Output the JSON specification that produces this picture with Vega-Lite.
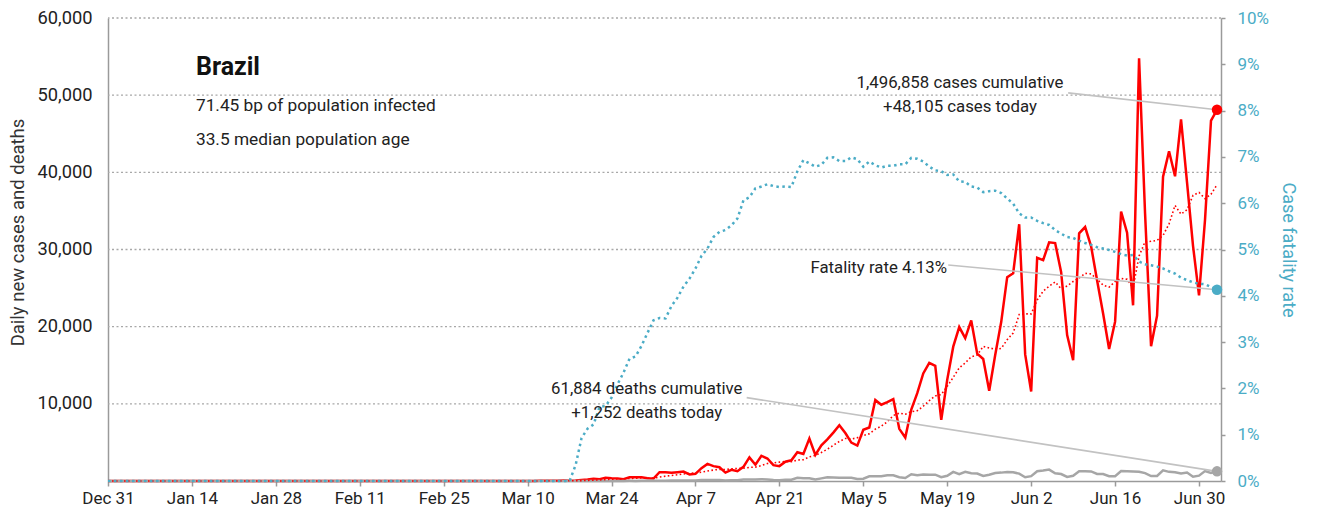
{
 "$schema": "https://vega.github.io/schema/vega-lite/v6.json",
 "width": 1113, "height": 463,
 "autosize": {"type": "none"},
 "padding": {"left": 108, "top": 18, "right": 96, "bottom": 39},
 "background": "white",
 "config": {
  "view": {"stroke": null},
  "font": "Roboto",
  "axis": {"labelFont": "Roboto", "titleFont": "Roboto", "titleFontWeight": "normal", "domainColor": "#9a9a9a", "domainWidth": 1.5, "tickColor": "#9a9a9a", "tickWidth": 1.5}
 },
 "datasets": {
  "daily": [
   {"d":"2019-12-31","c":0,"a":0,"x":0,"f":0},
   {"d":"2020-01-01","c":0,"a":0,"x":0,"f":0},{"d":"2020-01-02","c":0,"a":0,"x":0,"f":0},{"d":"2020-01-03","c":0,"a":0,"x":0,"f":0},{"d":"2020-01-04","c":0,"a":0,"x":0,"f":0},{"d":"2020-01-05","c":0,"a":0,"x":0,"f":0},{"d":"2020-01-06","c":0,"a":0,"x":0,"f":0},{"d":"2020-01-07","c":0,"a":0,"x":0,"f":0},{"d":"2020-01-08","c":0,"a":0,"x":0,"f":0},{"d":"2020-01-09","c":0,"a":0,"x":0,"f":0},{"d":"2020-01-10","c":0,"a":0,"x":0,"f":0},
   {"d":"2020-01-11","c":0,"a":0,"x":0,"f":0},{"d":"2020-01-12","c":0,"a":0,"x":0,"f":0},{"d":"2020-01-13","c":0,"a":0,"x":0,"f":0},{"d":"2020-01-14","c":0,"a":0,"x":0,"f":0},{"d":"2020-01-15","c":0,"a":0,"x":0,"f":0},{"d":"2020-01-16","c":0,"a":0,"x":0,"f":0},{"d":"2020-01-17","c":0,"a":0,"x":0,"f":0},{"d":"2020-01-18","c":0,"a":0,"x":0,"f":0},{"d":"2020-01-19","c":0,"a":0,"x":0,"f":0},{"d":"2020-01-20","c":0,"a":0,"x":0,"f":0},
   {"d":"2020-01-21","c":0,"a":0,"x":0,"f":0},{"d":"2020-01-22","c":0,"a":0,"x":0,"f":0},{"d":"2020-01-23","c":0,"a":0,"x":0,"f":0},{"d":"2020-01-24","c":0,"a":0,"x":0,"f":0},{"d":"2020-01-25","c":0,"a":0,"x":0,"f":0},{"d":"2020-01-26","c":0,"a":0,"x":0,"f":0},{"d":"2020-01-27","c":0,"a":0,"x":0,"f":0},{"d":"2020-01-28","c":0,"a":0,"x":0,"f":0},{"d":"2020-01-29","c":0,"a":0,"x":0,"f":0},{"d":"2020-01-30","c":0,"a":0,"x":0,"f":0},{"d":"2020-01-31","c":0,"a":0,"x":0,"f":0},
   {"d":"2020-02-01","c":0,"a":0,"x":0,"f":0},{"d":"2020-02-02","c":0,"a":0,"x":0,"f":0},{"d":"2020-02-03","c":0,"a":0,"x":0,"f":0},{"d":"2020-02-04","c":0,"a":0,"x":0,"f":0},{"d":"2020-02-05","c":0,"a":0,"x":0,"f":0},{"d":"2020-02-06","c":0,"a":0,"x":0,"f":0},{"d":"2020-02-07","c":0,"a":0,"x":0,"f":0},{"d":"2020-02-08","c":0,"a":0,"x":0,"f":0},{"d":"2020-02-09","c":0,"a":0,"x":0,"f":0},{"d":"2020-02-10","c":0,"a":0,"x":0,"f":0},
   {"d":"2020-02-11","c":0,"a":0,"x":0,"f":0},{"d":"2020-02-12","c":0,"a":0,"x":0,"f":0},{"d":"2020-02-13","c":0,"a":0,"x":0,"f":0},{"d":"2020-02-14","c":0,"a":0,"x":0,"f":0},{"d":"2020-02-15","c":0,"a":0,"x":0,"f":0},{"d":"2020-02-16","c":0,"a":0,"x":0,"f":0},{"d":"2020-02-17","c":0,"a":0,"x":0,"f":0},{"d":"2020-02-18","c":0,"a":0,"x":0,"f":0},{"d":"2020-02-19","c":0,"a":0,"x":0,"f":0},{"d":"2020-02-20","c":0,"a":0,"x":0,"f":0},
   {"d":"2020-02-21","c":0,"a":0,"x":0,"f":0},{"d":"2020-02-22","c":0,"a":0,"x":0,"f":0},{"d":"2020-02-23","c":0,"a":0,"x":0,"f":0},{"d":"2020-02-24","c":0,"a":0,"x":0,"f":0},{"d":"2020-02-25","c":0,"a":0,"x":0,"f":0},
   {"d":"2020-02-26","c":1,"a":0,"x":0,"f":0},{"d":"2020-02-27","c":0,"a":0,"x":0,"f":0},{"d":"2020-02-28","c":0,"a":0,"x":0,"f":0},{"d":"2020-02-29","c":0,"a":0,"x":0,"f":0},
   {"d":"2020-03-01","c":1,"a":0,"x":0,"f":0},{"d":"2020-03-02","c":0,"a":0,"x":0,"f":0},{"d":"2020-03-03","c":0,"a":0,"x":0,"f":0},{"d":"2020-03-04","c":0,"a":0,"x":0,"f":0},{"d":"2020-03-05","c":1,"a":0,"x":0,"f":0},{"d":"2020-03-06","c":5,"a":1,"x":0,"f":0},{"d":"2020-03-07","c":5,"a":2,"x":0,"f":0},{"d":"2020-03-08","c":6,"a":2,"x":0,"f":0},{"d":"2020-03-09","c":6,"a":3,"x":0,"f":0},{"d":"2020-03-10","c":0,"a":3,"x":0,"f":0},
   {"d":"2020-03-11","c":9,"a":5,"x":0,"f":0},{"d":"2020-03-12","c":18,"a":7,"x":0,"f":0},{"d":"2020-03-13","c":25,"a":10,"x":0,"f":0},{"d":"2020-03-14","c":21,"a":12,"x":0,"f":0},{"d":"2020-03-15","c":23,"a":15,"x":0,"f":0},{"d":"2020-03-16","c":79,"a":25,"x":0,"f":0},{"d":"2020-03-17","c":34,"a":30,"x":0,"f":0},
   {"d":"2020-03-18","c":57,"a":37,"x":1,"f":0.34},{"d":"2020-03-19","c":137,"a":54,"x":3,"f":0.93},{"d":"2020-03-20","c":193,"a":78,"x":3,"f":1.13},{"d":"2020-03-21","c":283,"a":115,"x":4,"f":1.22},{"d":"2020-03-22","c":224,"a":144,"x":7,"f":1.60},{"d":"2020-03-23","c":418,"a":192,"x":7,"f":1.62},{"d":"2020-03-24","c":345,"a":237,"x":9,"f":1.80},{"d":"2020-03-25","c":310,"a":273,"x":12,"f":2.09},{"d":"2020-03-26","c":232,"a":286,"x":11,"f":2.34},{"d":"2020-03-27","c":482,"a":328,"x":20,"f":2.64},{"d":"2020-03-28","c":502,"a":359,"x":15,"f":2.69},{"d":"2020-03-29","c":487,"a":397,"x":22,"f":2.92},{"d":"2020-03-30","c":352,"a":387,"x":22,"f":3.20},{"d":"2020-03-31","c":323,"a":384,"x":23,"f":3.47},
   {"d":"2020-04-01","c":1138,"a":502,"x":42,"f":3.52},{"d":"2020-04-02","c":1119,"a":629,"x":39,"f":3.51},{"d":"2020-04-03","c":1074,"a":714,"x":59,"f":3.78},{"d":"2020-04-04","c":1146,"a":806,"x":60,"f":3.96},{"d":"2020-04-05","c":1222,"a":911,"x":73,"f":4.20},{"d":"2020-04-06","c":852,"a":982,"x":54,"f":4.37},{"d":"2020-04-07","c":926,"a":1068,"x":67,"f":4.59},{"d":"2020-04-08","c":1661,"a":1143,"x":114,"f":4.86},{"d":"2020-04-09","c":2210,"a":1299,"x":133,"f":5.02},{"d":"2020-04-10","c":1930,"a":1421,"x":141,"f":5.27},
   {"d":"2020-04-11","c":1781,"a":1512,"x":115,"f":5.38},{"d":"2020-04-12","c":1089,"a":1493,"x":68,"f":5.42},{"d":"2020-04-13","c":1442,"a":1577,"x":99,"f":5.52},{"d":"2020-04-14","c":1261,"a":1625,"x":105,"f":5.67},{"d":"2020-04-15","c":1832,"a":1649,"x":204,"f":6.06},{"d":"2020-04-16","c":3058,"a":1770,"x":204,"f":6.13},{"d":"2020-04-17","c":2105,"a":1795,"x":188,"f":6.32},{"d":"2020-04-18","c":3257,"a":2006,"x":217,"f":6.36},{"d":"2020-04-19","c":2917,"a":2267,"x":206,"f":6.41},{"d":"2020-04-20","c":2055,"a":2355,"x":115,"f":6.37},
   {"d":"2020-04-21","c":1927,"a":2450,"x":113,"f":6.35},{"d":"2020-04-22","c":2498,"a":2545,"x":166,"f":6.36},{"d":"2020-04-23","c":2678,"a":2491,"x":165,"f":6.35},{"d":"2020-04-24","c":3735,"a":2724,"x":407,"f":6.69},{"d":"2020-04-25","c":3503,"a":2759,"x":357,"f":6.93},{"d":"2020-04-26","c":5514,"a":3130,"x":346,"f":6.86},{"d":"2020-04-27","c":3379,"a":3319,"x":189,"f":6.79},{"d":"2020-04-28","c":4613,"a":3703,"x":338,"f":6.83},{"d":"2020-04-29","c":5385,"a":4115,"x":474,"f":6.98},{"d":"2020-04-30","c":6276,"a":4629,"x":449,"f":6.99},
   {"d":"2020-05-01","c":7218,"a":5127,"x":435,"f":6.91},{"d":"2020-05-02","c":6209,"a":5513,"x":428,"f":6.91},{"d":"2020-05-03","c":4970,"a":5436,"x":421,"f":6.99},{"d":"2020-05-04","c":4588,"a":5608,"x":275,"f":6.95},{"d":"2020-05-05","c":6633,"a":5897,"x":296,"f":6.79},{"d":"2020-05-06","c":6935,"a":6118,"x":600,"f":6.90},{"d":"2020-05-07","c":10503,"a":6722,"x":615,"f":6.82},{"d":"2020-05-08","c":9888,"a":7104,"x":610,"f":6.77},{"d":"2020-05-09","c":10222,"a":7677,"x":751,"f":6.81},{"d":"2020-05-10","c":10611,"a":8483,"x":730,"f":6.81},
   {"d":"2020-05-11","c":6760,"a":8793,"x":496,"f":6.84},{"d":"2020-05-12","c":5632,"a":8650,"x":396,"f":6.84},{"d":"2020-05-13","c":9258,"a":8982,"x":881,"f":6.98},{"d":"2020-05-14","c":11385,"a":9108,"x":749,"f":6.96},{"d":"2020-05-15","c":13944,"a":9687,"x":844,"f":6.90},{"d":"2020-05-16","c":15305,"a":10414,"x":824,"f":6.79},{"d":"2020-05-17","c":14919,"a":11029,"x":816,"f":6.71},{"d":"2020-05-18","c":7938,"a":11197,"x":485,"f":6.69},{"d":"2020-05-19","c":13140,"a":12270,"x":674,"f":6.61},{"d":"2020-05-20","c":17408,"a":13434,"x":1179,"f":6.62},
   {"d":"2020-05-21","c":19951,"a":14658,"x":888,"f":6.47},{"d":"2020-05-22","c":18508,"a":15310,"x":1188,"f":6.46},{"d":"2020-05-23","c":20803,"a":16095,"x":1001,"f":6.36},{"d":"2020-05-24","c":16508,"a":16322,"x":965,"f":6.34},{"d":"2020-05-25","c":15813,"a":17447,"x":653,"f":6.24},{"d":"2020-05-26","c":11687,"a":17240,"x":807,"f":6.26},{"d":"2020-05-27","c":16324,"a":17085,"x":1039,"f":6.27},{"d":"2020-05-28","c":20599,"a":17177,"x":1086,"f":6.22},{"d":"2020-05-29","c":26417,"a":18307,"x":1156,"f":6.10},{"d":"2020-05-30","c":26928,"a":19182,"x":1124,"f":5.99},{"d":"2020-05-31","c":33274,"a":21577,"x":956,"f":5.78},
   {"d":"2020-06-01","c":16409,"a":21663,"x":480,"f":5.69},{"d":"2020-06-02","c":11598,"a":21650,"x":623,"f":5.69},{"d":"2020-06-03","c":28936,"a":23452,"x":1262,"f":5.62},{"d":"2020-06-04","c":28633,"a":24599,"x":1349,"f":5.57},{"d":"2020-06-05","c":30925,"a":25243,"x":1473,"f":5.53},{"d":"2020-06-06","c":30830,"a":25801,"x":1005,"f":5.42},{"d":"2020-06-07","c":27075,"a":24915,"x":904,"f":5.34},{"d":"2020-06-08","c":18912,"a":25273,"x":525,"f":5.27},{"d":"2020-06-09","c":15654,"a":25852,"x":679,"f":5.25},{"d":"2020-06-10","c":32091,"a":26303,"x":1272,"f":5.19},
   {"d":"2020-06-11","c":32913,"a":26914,"x":1274,"f":5.14},{"d":"2020-06-12","c":30412,"a":26841,"x":1239,"f":5.10},{"d":"2020-06-13","c":25982,"a":26148,"x":909,"f":5.05},{"d":"2020-06-14","c":21704,"a":25381,"x":892,"f":5.02},{"d":"2020-06-15","c":17110,"a":25124,"x":612,"f":4.99},{"d":"2020-06-16","c":20647,"a":25837,"x":627,"f":4.95},{"d":"2020-06-17","c":34918,"a":26241,"x":1282,"f":4.90},{"d":"2020-06-18","c":32188,"a":26137,"x":1269,"f":4.87},{"d":"2020-06-19","c":22765,"a":25045,"x":1238,"f":4.88},{"d":"2020-06-20","c":54771,"a":29158,"x":1206,"f":4.74},
   {"d":"2020-06-21","c":34666,"a":31009,"x":1022,"f":4.68},{"d":"2020-06-22","c":17459,"a":31059,"x":641,"f":4.66},{"d":"2020-06-23","c":21432,"a":31171,"x":654,"f":4.63},{"d":"2020-06-24","c":39436,"a":31817,"x":1374,"f":4.59},{"d":"2020-06-25","c":42725,"a":33322,"x":1185,"f":4.53},{"d":"2020-06-26","c":39483,"a":35710,"x":1141,"f":4.48},{"d":"2020-06-27","c":46860,"a":34580,"x":990,"f":4.39},{"d":"2020-06-28","c":38693,"a":35155,"x":1109,"f":4.34},{"d":"2020-06-29","c":30476,"a":37015,"x":552,"f":4.29},{"d":"2020-06-30","c":24052,"a":37389,"x":692,"f":4.26},
   {"d":"2020-07-01","c":33846,"a":36591,"x":1280,"f":4.25},{"d":"2020-07-02","c":46712,"a":37160,"x":1038,"f":4.19},{"d":"2020-07-03","c":48105,"a":38392,"x":1252,"f":4.13}
  ]
 },
 "layer": [
  {"data": {"values": [{"g": 10000}, {"g": 20000}, {"g": 30000}, {"g": 40000}, {"g": 50000}, {"g": 60000}]},
   "mark": {"type": "rule", "color": "#a8a8a8", "strokeWidth": 1.3, "strokeDash": [2, 2.5]},
   "encoding": {"y": {"field": "g", "type": "quantitative", "scale": {"domain": [0, 60000]}, "axis": null}}},
  {"data": {"name": "daily"}, "mark": {"type": "line", "color": "#ff0000", "strokeWidth": 2.5},
   "encoding": {
    "x": {"field": "d", "type": "temporal", "scale": {"type": "utc", "domain": [1577750400000, 1593792000000]},
     "axis": {"values": [1577750400000,1578960000000,1580169600000,1581379200000,1582588800000,1583798400000,1585008000000,1586217600000,1587427200000,1588636800000,1589846400000,1591056000000,1592265600000,1593475200000],
      "format": "%b %-d", "labelFontSize": 17, "labelColor": "#222", "tickSize": 5, "labelPadding": 4, "grid": false, "title": null, "labelFlush": false, "labelOverlap": false}},
    "y": {"field": "c", "type": "quantitative", "scale": {"domain": [0, 60000]},
    "axis": {"orient": "left", "values": [0,10000,20000,30000,40000,50000,60000], "format": ",d", "labelExpr": "datum.value == 0 ? '' : format(datum.value, ',d')",
     "labelFontSize": 18.3, "labelColor": "#222", "labelPadding": 16, "ticks": false, "grid": false,
     "title": "Daily new cases and deaths", "titleFontSize": 18.5, "titleColor": "#333", "titlePadding": 10, "titleY": 214}}}},
  {"data": {"name": "daily"}, "mark": {"type": "line", "color": "#a6a6a6", "strokeWidth": 2.5},
   "encoding": {"x": {"field": "d", "type": "temporal", "scale": {"type": "utc", "domain": [1577750400000, 1593792000000]}},
    "y": {"field": "x", "type": "quantitative", "scale": {"domain": [0, 60000]}, "axis": null}}},
  {"data": {"name": "daily"}, "mark": {"type": "line", "color": "#ff0000", "strokeWidth": 1.6, "strokeDash": [1.6, 2.4]},
   "encoding": {"x": {"field": "d", "type": "temporal", "scale": {"type": "utc", "domain": [1577750400000, 1593792000000]}},
    "y": {"field": "a", "type": "quantitative", "scale": {"domain": [0, 60000]}, "axis": null}}},
  {"data": {"name": "daily"}, "mark": {"type": "line", "color": "#4bacc6", "strokeWidth": 2.5, "strokeDash": [2.5, 3.5]},
   "encoding": {"x": {"field": "d", "type": "temporal", "scale": {"type": "utc", "domain": [1577750400000, 1593792000000]}},
    "y": {"field": "f", "type": "quantitative", "scale": {"domain": [0, 10]},
    "axis": {"orient": "right", "values": [0,1,2,3,4,5,6,7,8,9,10], "labelExpr": "datum.value + '%'", "labelFontSize": 17, "labelColor": "#4bacc6",
     "tickSize": 4, "labelPadding": 12, "grid": false, "title": "Case fatality rate", "titleColor": "#4bacc6", "titleFontSize": 18, "titlePadding": 10}}}},
  {"data": {"values": [
    {"d": "2020-06-08T04:00:00Z", "v": 50300, "g": "cases"}, {"d": "2020-07-03", "v": 48105, "g": "cases"},
    {"d": "2020-04-15T13:00:00Z", "v": 10800, "g": "deaths"}, {"d": "2020-07-03", "v": 1252, "g": "deaths"}]},
   "mark": {"type": "line", "color": "#c2c2c2", "strokeWidth": 1.6},
   "encoding": {"x": {"field": "d", "type": "temporal", "scale": {"type": "utc", "domain": [1577750400000, 1593792000000]}},
    "y": {"field": "v", "type": "quantitative", "scale": {"domain": [0, 60000]}, "axis": null}, "detail": {"field": "g"}}},
  {"data": {"values": [{"d": "2020-05-19T04:00:00Z", "v": 4.665}, {"d": "2020-07-03", "v": 4.13}]},
   "mark": {"type": "line", "color": "#c2c2c2", "strokeWidth": 1.6},
   "encoding": {"x": {"field": "d", "type": "temporal", "scale": {"type": "utc", "domain": [1577750400000, 1593792000000]}},
    "y": {"field": "v", "type": "quantitative", "scale": {"domain": [0, 10]}, "axis": null}}},
  {"data": {"values": [{"d": "2020-07-03", "v": 48105}]}, "mark": {"type": "circle", "color": "#ff0000", "size": 110, "opacity": 1},
   "encoding": {"x": {"field": "d", "type": "temporal", "scale": {"type": "utc", "domain": [1577750400000, 1593792000000]}},
    "y": {"field": "v", "type": "quantitative", "scale": {"domain": [0, 60000]}, "axis": null}}},
  {"data": {"values": [{"d": "2020-07-03", "v": 1252}]}, "mark": {"type": "circle", "color": "#a6a6a6", "size": 110, "opacity": 1},
   "encoding": {"x": {"field": "d", "type": "temporal", "scale": {"type": "utc", "domain": [1577750400000, 1593792000000]}},
    "y": {"field": "v", "type": "quantitative", "scale": {"domain": [0, 60000]}, "axis": null}}},
  {"data": {"values": [{"d": "2020-07-03", "v": 4.13}]}, "mark": {"type": "circle", "color": "#4bacc6", "size": 110, "opacity": 1},
   "encoding": {"x": {"field": "d", "type": "temporal", "scale": {"type": "utc", "domain": [1577750400000, 1593792000000]}},
    "y": {"field": "v", "type": "quantitative", "scale": {"domain": [0, 10]}, "axis": null}}},
  {"data": {"values": [{"d": "2020-01-14T16:00:00Z", "v": 52614, "t": "Brazil"}]},
   "mark": {"type": "text", "align": "left", "baseline": "alphabetic", "fontSize": 25, "fontWeight": "bold", "color": "#111"},
   "encoding": {"x": {"field": "d", "type": "temporal", "scale": {"type": "utc", "domain": [1577750400000, 1593792000000]}},
    "y": {"field": "v", "type": "quantitative", "scale": {"domain": [0, 60000]}, "axis": null}, "text": {"field": "t"}}},
  {"data": {"values": [{"d": "2020-01-14T16:00:00Z", "v": 47884, "t": "71.45 bp of population infected"}, {"d": "2020-01-14T16:00:00Z", "v": 43542, "t": "33.5 median population age"}]},
   "mark": {"type": "text", "align": "left", "baseline": "alphabetic", "fontSize": 17.3, "color": "#222"},
   "encoding": {"x": {"field": "d", "type": "temporal", "scale": {"type": "utc", "domain": [1577750400000, 1593792000000]}},
    "y": {"field": "v", "type": "quantitative", "scale": {"domain": [0, 60000]}, "axis": null}, "text": {"field": "t"}}},
  {"data": {"values": [
    {"d": "2020-05-21T03:00:00Z", "v": 50890, "t": "1,496,858 cases cumulative"},
    {"d": "2020-05-21T03:00:00Z", "v": 47858, "t": "+48,105 cases today"},
    {"d": "2020-03-29T21:00:00Z", "v": 11235, "t": "61,884 deaths cumulative"},
    {"d": "2020-03-29T21:00:00Z", "v": 8125, "t": "+1,252 deaths today"}]},
   "mark": {"type": "text", "align": "center", "baseline": "alphabetic", "fontSize": 16.8, "color": "#222"},
   "encoding": {"x": {"field": "d", "type": "temporal", "scale": {"type": "utc", "domain": [1577750400000, 1593792000000]}},
    "y": {"field": "v", "type": "quantitative", "scale": {"domain": [0, 60000]}, "axis": null}, "text": {"field": "t"}}},
  {"data": {"values": [{"d": "2020-05-18T23:00:00Z", "v": 26916, "t": "Fatality rate 4.13%"}]},
   "mark": {"type": "text", "align": "right", "baseline": "alphabetic", "fontSize": 16.8, "color": "#222"},
   "encoding": {"x": {"field": "d", "type": "temporal", "scale": {"type": "utc", "domain": [1577750400000, 1593792000000]}},
    "y": {"field": "v", "type": "quantitative", "scale": {"domain": [0, 60000]}, "axis": null}, "text": {"field": "t"}}}
 ],
 "resolve": {"scale": {"y": "independent"}}
}
